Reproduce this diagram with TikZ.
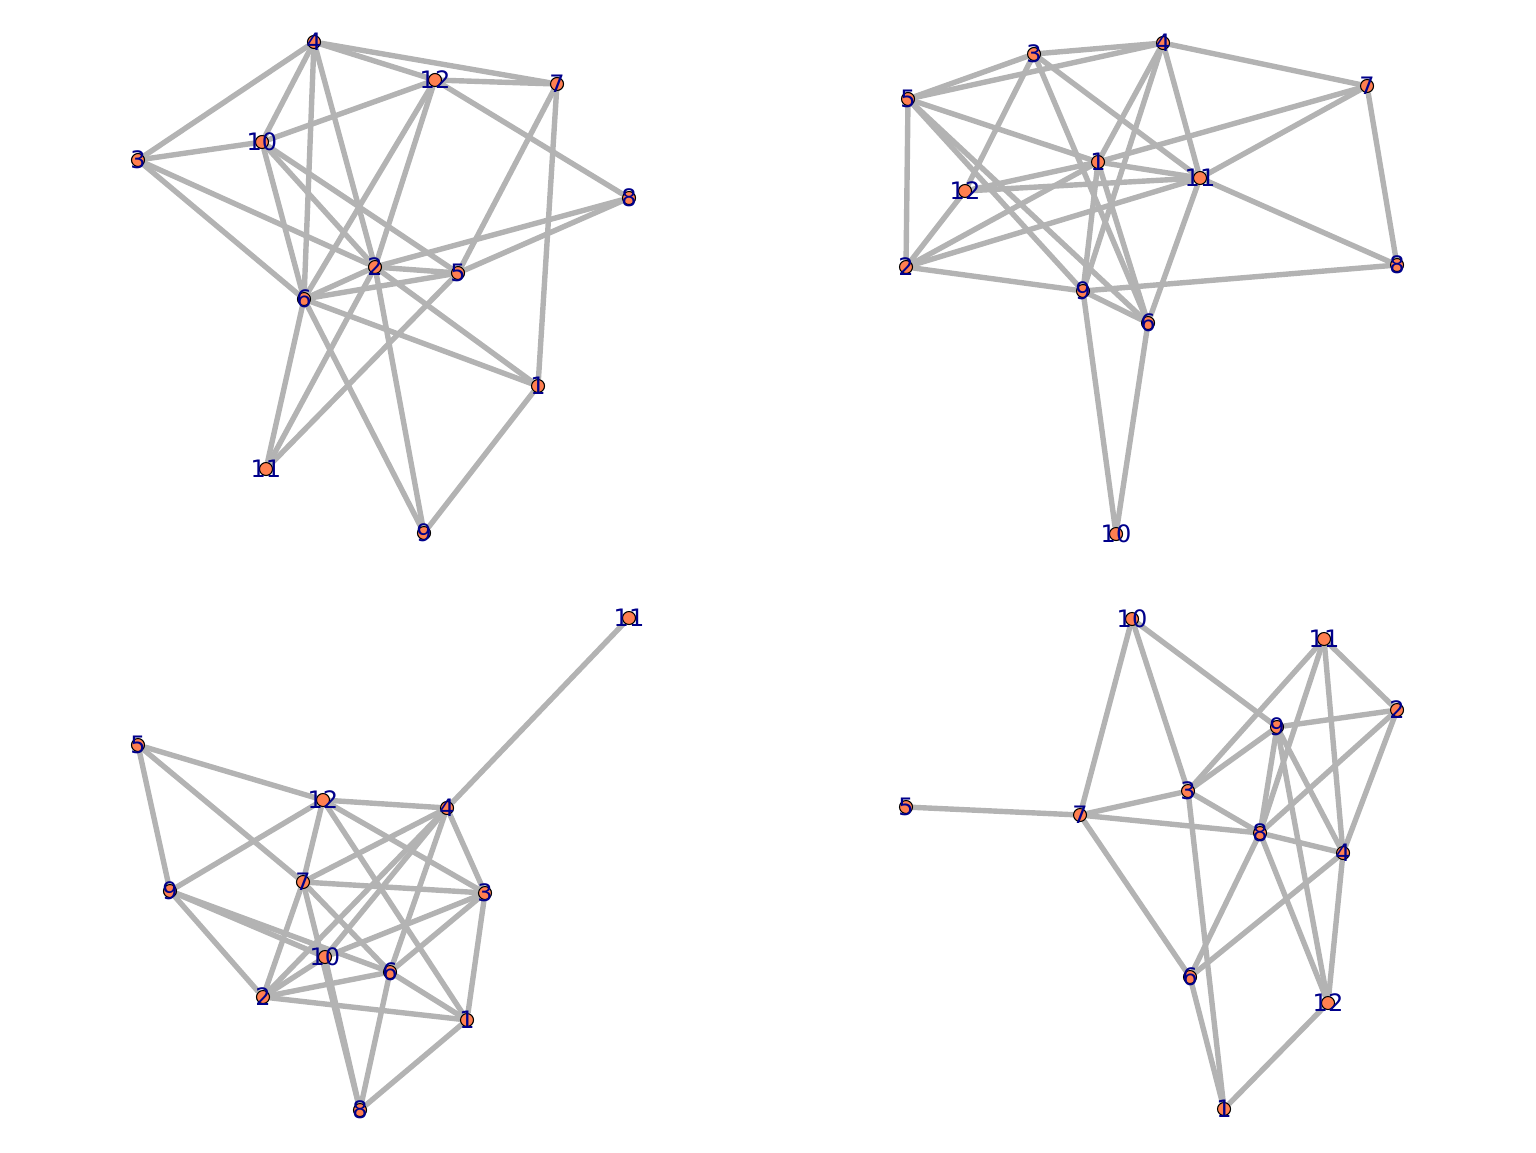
\documentclass[tikz,border=0pt]{standalone}
\usepackage{fontspec}
\setmainfont{DejaVu Sans}
\usetikzlibrary{backgrounds}
\definecolor{edgec}{RGB}{179,179,179}
\definecolor{nodec}{RGB}{255,127,80}
\definecolor{labc}{RGB}{0,0,139}
\tikzset{
  vert/.style={circle, fill=nodec, draw=black, line width=1.1pt, minimum size=13pt, inner sep=0pt},
  lab/.style={text=labc, font=\fontsize{24}{24}\selectfont, inner sep=0pt},
  edge/.style={draw=edgec, line width=5.4pt},
}
\begin{document}
\begin{tikzpicture}[x=1pt,y=-1pt]
\useasboundingbox (0,0) rectangle (1536,1152);
% ---------- top left ----------
\foreach \n/\x/\y in {1/538/386,2/375/267,3/138/160,4/314/42,5/458/273,6/304/299,7/557/84,8/629/198,9/424/533,10/262/142,11/266/469,12/435/80}
  \node[vert] (a\n) at (\x,\y) {};
\begin{scope}[on background layer]
\foreach \p/\q in {4/3,4/10,4/6,4/2,4/12,4/7,3/10,3/2,3/6,10/12,10/6,10/2,10/5,12/7,12/8,12/6,12/2,7/5,7/1,8/2,8/5,6/2,6/5,6/1,6/11,6/9,2/5,2/1,2/9,2/11,5/11,9/1}
  \draw[edge] (a\p) -- (a\q);
\end{scope}
\foreach \n in {1,...,12} \node[lab] (a\n l) at (a\n) {\n};
% ---------- top right ----------
\foreach \n/\x/\y in {1/1098/162,2/906/267,3/1034/54,4/1163/43,5/908/99,6/1148/323,7/1367/86,8/1397/265,9/1083/291,10/1116/534,11/1200/178,12/965/191}
  \node[vert] (b\n) at (\x,\y) {};
\begin{scope}[on background layer]
\foreach \p/\q in {3/4,3/5,3/12,3/6,3/11,5/4,5/2,5/1,5/9,5/6,4/1,4/9,4/11,4/7,7/1,7/11,7/8,11/8,11/6,11/1,11/12,11/2,12/1,12/2,2/1,2/9,1/6,1/9,9/8,9/10,9/6,6/10}
  \draw[edge] (b\p) -- (b\q);
\end{scope}
\foreach \n in {1,...,12} \node[lab] (b\n l) at (b\n) {\n};
% ---------- bottom left ----------
\foreach \n/\x/\y in {1/467/1020,2/263/997,3/485/893,4/447/808,5/138/745,6/390/972,7/303/882,8/360/1110,9/170/891,10/325/957,11/629/618,12/323/800}
  \node[vert] (c\n) at (\x,\y) {};
\begin{scope}[on background layer]
\foreach \p/\q in {11/4,5/12,5/9,5/7,12/4,12/9,12/7,12/3,12/1,4/7,4/2,4/10,4/6,4/3,7/3,7/2,7/8,7/6,9/10,9/6,9/2,10/3,10/8,10/2,6/2,6/3,6/8,6/1,2/1,3/1,8/1}
  \draw[edge] (c\p) -- (c\q);
\end{scope}
\foreach \n in {1,...,12} \node[lab] (c\n l) at (c\n) {\n};
% ---------- bottom right ----------
\foreach \n/\x/\y in {1/1224/1109,2/1397/710,3/1188/791,4/1343/853,5/906/807,6/1190/977,7/1080/815,8/1260/833,9/1277/727,10/1132/619,11/1324/639,12/1328/1003}
  \node[vert] (d\n) at (\x,\y) {};
\begin{scope}[on background layer]
\foreach \p/\q in {10/7,10/3,10/9,11/3,11/8,11/4,11/2,9/3,9/2,9/8,9/4,9/12,2/8,2/4,3/7,3/8,3/1,7/5,7/8,7/6,8/4,8/6,8/12,4/6,4/12,6/1,12/1}
  \draw[edge] (d\p) -- (d\q);
\end{scope}
\foreach \n in {1,...,12} \node[lab] (d\n l) at (d\n) {\n};
\end{tikzpicture}
\end{document}
